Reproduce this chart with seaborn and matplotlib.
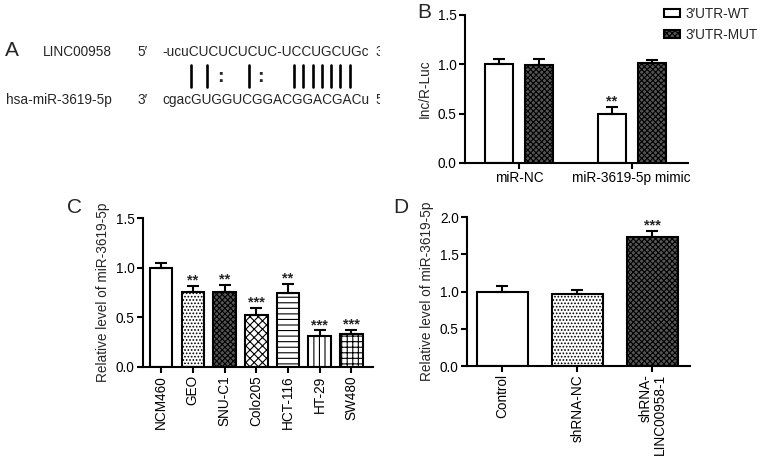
import pandas as pd
import matplotlib
matplotlib.use("Agg")
import matplotlib.pyplot as plt
import seaborn as sns
from matplotlib.patches import Patch
from matplotlib.lines import Line2D
from matplotlib.transforms import Bbox


# panel A: binding site
lnc_name = "LINC00958"
mir_name = "hsa-miR-3619-5p"
lnc_seq = "-ucuCUCUCUCUC-UCCUGCUGc"
mir_seq = "cgacGUGGUCGGACGGACGACu"
pair_marks = ["|", "|", ":", "|", ":", "|", "|", "|", "|", "|", "|", "|"]

# panel B: luciferase
b_groups = ["miR-NC", "miR-3619-5p mimic"]
b_constructs = ["3\u2032UTR-WT", "3\u2032UTR-MUT"]
b_wt = [1.00, 0.50]
b_wt_err = [0.05, 0.07]
b_wt_sig = ["", "**"]
b_mut = [0.99, 1.01]
b_mut_err = [0.065, 0.03]
b_mut_sig = ["", ""]

# panel C: cell lines
c_lines = ["NCM460", "GEO", "SNU-C1", "Colo205", "HCT-116", "HT-29", "SW480"]
c_vals = [1.00, 0.76, 0.76, 0.52, 0.74, 0.31, 0.33]
c_err = [0.05, 0.06, 0.07, 0.075, 0.10, 0.06, 0.045]
c_sig = ["", "**", "**", "***", "**", "***", "***"]

# panel D: knockdown
d_groups = ["Control", "shRNA-NC", "shRNA-\nLINC00958-1"]
d_vals = [1.00, 0.96, 1.73]
d_err = [0.07, 0.06, 0.085]
d_sig = ["", "", "***"]


W, H = 765, 461
FS = 9.8
LW = 1.5

sns.set_style("ticks")
plt.rcParams["font.family"] = ["Liberation Sans", "DejaVu Sans"]
plt.rcParams["hatch.linewidth"] = 0.8
plt.rcParams["axes.linewidth"] = LW

# fill styles (facecolor, hatch)
WHITE = ("white", None)
LIGHT = ("white", ".....")
DARK = ("#555555", "xxxxxx")
CHECK = ("white", "xxxx")
HLINE = ("white", "---")
VLINE = ("white", "|||")
GRID = ("white", "+++")


def fx(x):
    return x / W


def fy(y):
    return 1 - y / H


def axes_at(fig, left, top, right, bottom):
    return fig.add_axes([fx(left), fy(bottom), (right - left) / W, (bottom - top) / H])


def style_axis(ax, ymax, ylabel):
    ax.set_ylim(0, ymax)
    ticks = [i * 0.5 for i in range(int(ymax / 0.5) + 1)]
    ax.set_yticks(ticks)
    ax.set_yticklabels([f"{t:.1f}" for t in ticks])
    ax.set_ylabel(ylabel, fontsize=FS, labelpad=4)
    ax.set_xlabel("")
    sns.despine(ax=ax)
    for s in ["left", "bottom"]:
        ax.spines[s].set_linewidth(LW)
        ax.spines[s].set_color("black")
    ax.tick_params(axis="both", width=LW, length=4, pad=2, labelsize=FS, colors="black")


def apply_styles(bars, styles):
    for p, (fc, hatch) in zip(bars, styles):
        p.set_facecolor(fc)
        p.set_hatch(hatch)
        p.set_edgecolor("black")
        p.set_linewidth(LW)


def add_errors(ax, bars, vals, errs, sigs):
    xs = [p.get_x() + p.get_width() / 2 for p in bars]
    ax.errorbar(xs, vals, yerr=[[0] * len(errs), errs], fmt="none", ecolor="black",
                elinewidth=LW, capsize=4.5, capthick=LW, zorder=1)
    unit = ax.get_ylim()[1] / 1.5
    for x, v, e, s in zip(xs, vals, errs, sigs):
        if s:
            ax.text(x, v + e + 0.015 * unit, s, ha="center", va="baseline",
                    fontsize=10.5, fontweight="bold")


fig = plt.figure(figsize=(W / 100, H / 100), dpi=100)

# ---------------- A ----------------
clip = Bbox.from_extents(0, 0, 380, H)
fig.text(fx(5), fy(50), "A", fontsize=15, va="center", ha="left")
rows = [(52, lnc_name, "5\u2032", lnc_seq, "3\u2032"), (100, mir_name, "3\u2032", mir_seq, "5\u2032")]
for y, name, end1, seq, end2 in rows:
    fig.text(fx(112), fy(y), name, fontsize=FS, ha="right", va="center")
    fig.text(fx(137), fy(y), end1, fontsize=FS, ha="left", va="center")
    fig.text(fx(162), fy(y), seq, fontsize=FS, ha="left", va="center")
    t = fig.text(fx(375), fy(y), end2, fontsize=FS, ha="left", va="center")
    t.set_clip_box(clip)
    t.set_clip_on(True)
mark_x = [191, 207, 220, 249, 260, 294, 303, 313, 322, 331, 340, 350]
for x, m in zip(mark_x, pair_marks):
    if m == "|":
        fig.add_artist(Line2D([fx(x), fx(x)], [fy(65), fy(87)], color="black", lw=1.9,
                              transform=fig.transFigure))
    else:
        fig.text(fx(x), fy(77), m, fontsize=14, fontweight="bold", ha="center", va="center")

# ---------------- B ----------------
axb = axes_at(fig, 465, 15, 688, 163)
dfb = pd.DataFrame({
    "group": b_groups * 2,
    "construct": [b_constructs[0]] * 2 + [b_constructs[1]] * 2,
    "value": b_wt + b_mut,
})
sns.barplot(data=dfb, x="group", y="value", hue="construct", order=b_groups,
            hue_order=b_constructs, palette=["white", DARK[0]], saturation=1,
            width=0.71, gap=0.3, errorbar=None, legend=False, ax=axb)
bars_b = sorted(axb.patches, key=lambda p: p.get_x())
vals_b = [b_wt[0], b_mut[0], b_wt[1], b_mut[1]]
errs_b = [b_wt_err[0], b_mut_err[0], b_wt_err[1], b_mut_err[1]]
sigs_b = [b_wt_sig[0], b_mut_sig[0], b_wt_sig[1], b_mut_sig[1]]
apply_styles(bars_b, [WHITE, DARK, WHITE, DARK])
add_errors(axb, bars_b, vals_b, errs_b, sigs_b)
axb.set_xlim(-0.48, 1.5)
style_axis(axb, 1.5, "Inc/R-Luc")
handles = [Patch(facecolor=WHITE[0], edgecolor="black", lw=LW, hatch=WHITE[1]),
           Patch(facecolor=DARK[0], edgecolor="black", lw=LW, hatch=DARK[1])]
fig.legend(handles, b_constructs, loc="upper left", bbox_to_anchor=(fx(664), fy(7)),
           frameon=False, fontsize=FS, handlelength=1.2, handleheight=0.5,
           handletextpad=0.35, labelspacing=0.5, borderpad=0, borderaxespad=0)
fig.text(fx(417), fy(13), "B", fontsize=15, va="center", ha="left")

# ---------------- C ----------------
axc = axes_at(fig, 143, 218, 373, 367)
dfc = pd.DataFrame({"line": c_lines, "value": c_vals})
sns.barplot(data=dfc, x="line", y="value", hue="line", order=c_lines, palette=["white"] * 7,
            saturation=1, width=0.71, errorbar=None, legend=False, ax=axc)
bars_c = sorted(axc.patches, key=lambda p: p.get_x())
apply_styles(bars_c, [WHITE, LIGHT, DARK, CHECK, HLINE, VLINE, GRID])
add_errors(axc, bars_c, c_vals, c_err, c_sig)
axc.set_xlim(-0.57, 6.68)
style_axis(axc, 1.5, "Relative level of miR-3619-5p")
axc.tick_params(axis="x", labelrotation=90)
fig.text(fx(67), fy(207), "C", fontsize=15, va="center", ha="left")

# ---------------- D ----------------
axd = axes_at(fig, 467, 217, 690, 366)
dfd = pd.DataFrame({"group": d_groups, "value": d_vals})
sns.barplot(data=dfd, x="group", y="value", hue="group", order=d_groups, palette=["white"] * 3,
            saturation=1, width=0.68, errorbar=None, legend=False, ax=axd)
bars_d = sorted(axd.patches, key=lambda p: p.get_x())
apply_styles(bars_d, [WHITE, LIGHT, DARK])
add_errors(axd, bars_d, d_vals, d_err, d_sig)
axd.set_xlim(-0.47, 2.5)
style_axis(axd, 2.0, "Relative level of miR-3619-5p")
axd.tick_params(axis="x", labelrotation=90)
for lab in axd.get_xticklabels():
    lab.set_multialignment("right")
    lab.set_linespacing(1.0)
fig.text(fx(393), fy(207), "D", fontsize=15, va="center", ha="left")

fig.savefig("out.png", dpi=100)
